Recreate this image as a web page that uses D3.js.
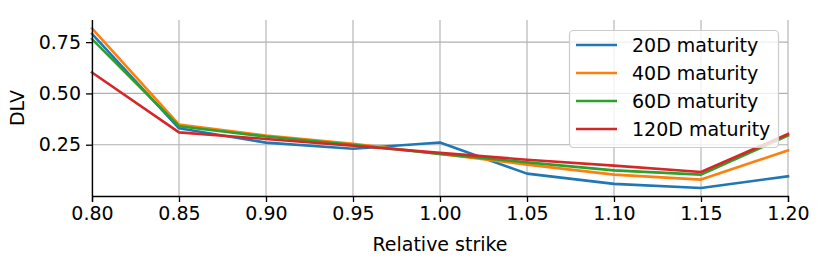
<!DOCTYPE html>
<html>
<head>
<meta charset="utf-8">
<script src="https://cdn.jsdelivr.net/npm/d3@7"></script>
<style>
  body { margin: 0; background: #fff; }
  text { font-family: "DejaVu Sans", sans-serif; }
</style>
</head>
<body>
<svg></svg>
<script>
//svg size
const width = 830;
const height = 277;

//data
var strikes = [0.80, 0.85, 0.90, 0.95, 1.00, 1.05, 1.10, 1.15, 1.20];
var dlv_20 = [0.790, 0.330, 0.260, 0.230, 0.261, 0.109, 0.059, 0.039, 0.096];
var dlv_40 = [0.817, 0.348, 0.295, 0.255, 0.205, 0.153, 0.104, 0.080, 0.222];
var dlv_60 = [0.765, 0.340, 0.290, 0.250, 0.205, 0.164, 0.125, 0.104, 0.295];
var dlv_120 = [0.602, 0.310, 0.278, 0.245, 0.210, 0.177, 0.148, 0.117, 0.302];
var series_names = ['20D maturity', '40D maturity', '60D maturity', '120D maturity'];
var x_ticks = [0.80, 0.85, 0.90, 0.95, 1.00, 1.05, 1.10, 1.15, 1.20];
var y_ticks = [0.25, 0.50, 0.75];

//colours
var colours = ['#1f77b4', '#ff7f0e', '#2ca02c', '#d62728'];

//plot area
var plot_left = 92, plot_right = 788, plot_top = 20, plot_bottom = 196;
var font_size = '19px';

var svg = d3.select('svg')
    .attr('width', width)
    .attr('height', height);

var all_series = [dlv_20, dlv_40, dlv_60, dlv_120];
var ymax = d3.max(all_series, s => d3.max(s));

//scales
var x = d3.scaleLinear().domain([0.80, 1.20]).range([plot_left, plot_right]);
var y = d3.scaleLinear().domain([0, ymax * 1.05]).range([plot_bottom, plot_top]);

//grid lines
var grid = svg.append('g').attr('class', 'grid');
grid.selectAll('line.vx')
    .data(x_ticks)
    .enter().append('line')
    .attr('x1', d => x(d)).attr('x2', d => x(d))
    .attr('y1', plot_top).attr('y2', plot_bottom)
    .attr('stroke', '#b0b0b0')
    .attr('stroke-width', 1.1);
grid.selectAll('line.hy')
    .data(y_ticks)
    .enter().append('line')
    .attr('x1', plot_left).attr('x2', plot_right)
    .attr('y1', d => y(d)).attr('y2', d => y(d))
    .attr('stroke', '#b0b0b0')
    .attr('stroke-width', 1.1);

//lines
var line = d3.line()
    .x((d, i) => x(strikes[i]))
    .y(d => y(d));

all_series.forEach(function(s, i) {
    svg.append('path')
       .datum(s)
       .attr('d', line)
       .attr('fill', 'none')
       .attr('stroke', colours[i])
       .attr('stroke-width', 2.6)
       .attr('stroke-linejoin', 'round')
       .attr('stroke-linecap', 'square');
});

//axes
var xAxis = d3.axisBottom(x).tickValues(x_ticks).tickFormat(d3.format('.2f')).tickSizeOuter(0).tickSize(6).tickPadding(5);
var yAxis = d3.axisLeft(y).tickValues(y_ticks).tickFormat(d3.format('.2f')).tickSizeOuter(0).tickSize(6).tickPadding(5);

var gx = svg.append('g')
    .attr('transform', 'translate(0,' + plot_bottom + ')')
    .call(xAxis);
var gy = svg.append('g')
    .attr('transform', 'translate(' + plot_left + ',0)')
    .call(yAxis);

//y axis line runs to the top of the plot
gy.select('.domain').attr('d', 'M0.5,' + plot_top + 'V' + plot_bottom);

[gx, gy].forEach(function(g) {
    g.select('.domain').attr('stroke', '#000').attr('stroke-width', 1.3);
    g.selectAll('.tick line').attr('stroke', '#000').attr('stroke-width', 1.3);
    g.selectAll('.tick text')
     .attr('fill', '#000')
     .style('font-family', '"DejaVu Sans", sans-serif')
     .style('font-size', font_size);
});

//axis labels
svg.append('text')
   .text('Relative strike')
   .attr('x', (plot_left + plot_right) / 2)
   .attr('y', 251)
   .attr('text-anchor', 'middle')
   .style('font-size', font_size);

svg.append('text')
   .text('DLV')
   .attr('transform', 'translate(24,108) rotate(-90)')
   .attr('text-anchor', 'middle')
   .style('font-size', font_size);

//legend
var legend = svg.append('g').attr('class', 'legend');
legend.append('rect')
      .attr('x', 569.5).attr('y', 30.5)
      .attr('width', 209).attr('height', 117)
      .attr('rx', 4).attr('ry', 4)
      .attr('fill', 'white').attr('fill-opacity', 0.8)
      .attr('stroke', '#cccccc').attr('stroke-width', 1.2);

series_names.forEach(function(name, i) {
    var ly = 45 + i * 28;
    legend.append('line')
          .attr('x1', 576).attr('x2', 617)
          .attr('y1', ly).attr('y2', ly)
          .attr('stroke', colours[i])
          .attr('stroke-width', 2.6);
    legend.append('text')
          .text(name)
          .attr('x', 632)
          .attr('y', ly + 7)
          .style('font-size', font_size);
});
</script>
</body>
</html>
